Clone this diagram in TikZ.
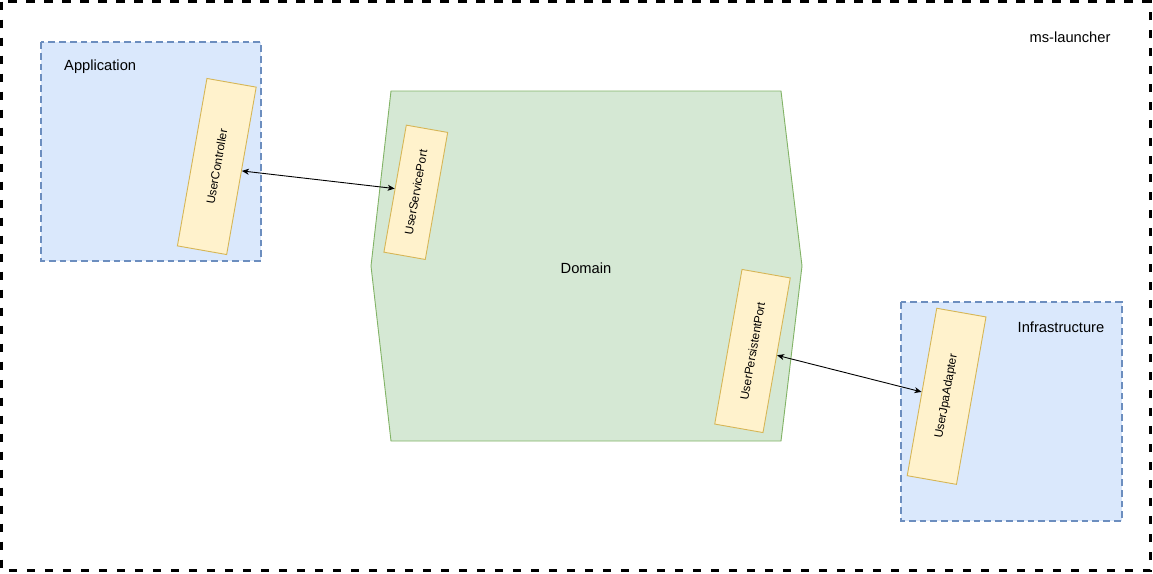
\documentclass[tikz,border=0pt]{standalone}
\usepackage{fontspec}
\setmainfont{Liberation Sans}
\usetikzlibrary{arrows.meta}
\definecolor{bluefill}{HTML}{DAE8FC}
\definecolor{bluestroke}{HTML}{6C8EBF}
\definecolor{greenfill}{HTML}{D5E8D4}
\definecolor{greenstroke}{HTML}{82B366}
\definecolor{yelfill}{HTML}{FFF2CC}
\definecolor{yelstroke}{HTML}{D6B656}
\tikzset{
  layerbox/.style={draw=bluestroke, fill=bluefill, line width=2.6pt, dash pattern=on 6.8pt off 4pt},
  compbox/.style={draw=yelstroke, fill=yelfill, line width=0.9pt, rotate=80, inner sep=0pt,
    font=\fontsize{11.8}{14}\selectfont},
  biarrow/.style={line width=0.9pt, {Stealth[length=7pt,width=6pt,inset=2pt]}-{Stealth[length=7pt,width=6pt,inset=2pt]}},
  lbl/.style={font=\fontsize{14.7}{17}\selectfont, inner sep=0pt}
}
\begin{document}
\begin{tikzpicture}[x=1pt,y=-1pt]
\useasboundingbox (0,0) rectangle (1153,573);
\fill[white] (0,0) rectangle (1153,573);
% outer container
\draw[line width=3.2pt, dash pattern=on 8.5pt off 9.5pt] (1.6,1.6) rectangle (1150.4,570.4);
\node[lbl] (ms) at (1070,37) {ms-launcher};
% Application layer
\draw[layerbox] (41,42) rectangle (261,261);
\node[lbl, anchor=west] (app) at (64,67) {Application};
% Infrastructure layer
\draw[layerbox] (901,302) rectangle (1122,521);
\node[lbl] (infra) at (1061,327) {Infrastructure};
% Domain hexagon
\draw[draw=greenstroke, fill=greenfill, line width=0.9pt]
  (391,91) -- (781,91) -- (802,266) -- (781,441) -- (391,441) -- (371,266) -- cycle;
\node[lbl] (dom) at (586,268) {Domain};
% components
\node[compbox, minimum width=170pt, minimum height=50pt] (ctrl) at (216.8,166.5) {UserController};
\node[compbox, minimum width=129pt, minimum height=42pt] (svc) at (415.8,192.3) {UserServicePort};
\node[compbox, minimum width=157pt, minimum height=49pt] (pers) at (752.5,351) {UserPersistentPort};
\node[compbox, minimum width=170pt, minimum height=50pt] (jpa) at (946.6,396.3) {UserJpaAdapter};
% connectors
\draw[biarrow] (ctrl.south) -- (svc.north);
\draw[biarrow] (pers.south) -- (jpa.north);
\end{tikzpicture}
\end{document}
